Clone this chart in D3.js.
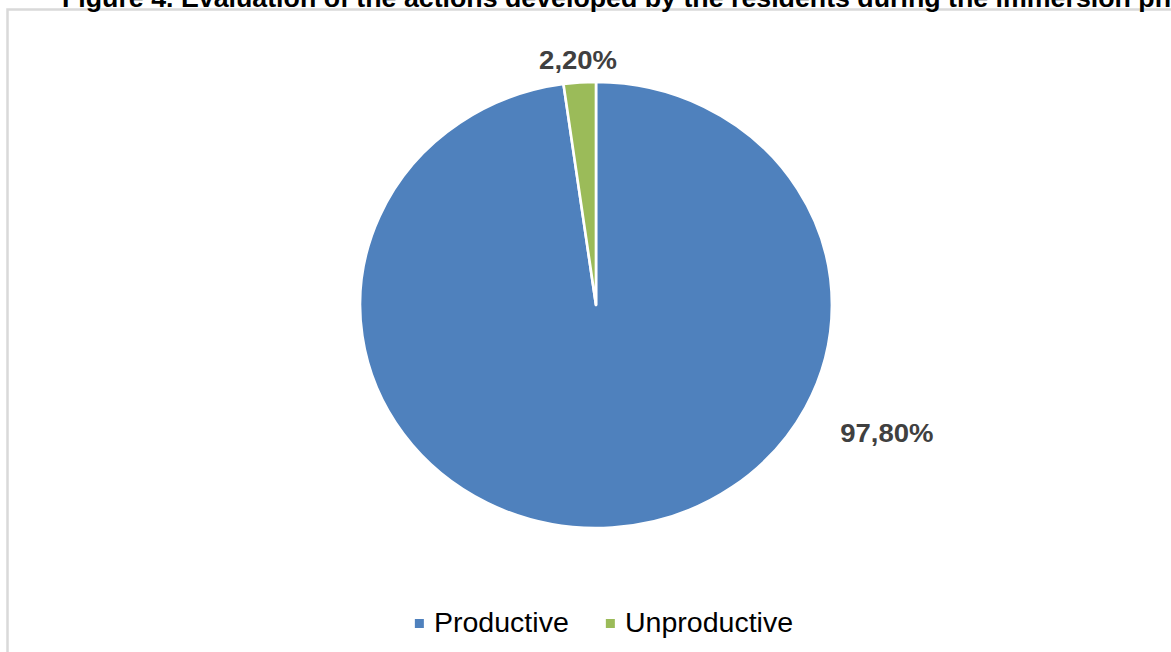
<!DOCTYPE html>
<html lang="en">
<head>
    <meta charset="UTF-8">
    <title>Figure 4</title>
    <script src="https://d3js.org/d3.v7.min.js"></script>
    <style>
        body {
            margin: 0;
            background: #fff;
            overflow: hidden;
        }
        text {
            font-family: "Liberation Sans", Arial, sans-serif;
        }
    </style>
</head>
<body>
<svg width="1171" height="652"></svg>
<script>
    const titleText = "Figure 4. Evaluation of the actions developed by the residents during the immersion phase";
    const categories = ["Productive", "Unproductive"];
    const values = [97.8, 2.2];
    const valueLabels = ["97,80%", "2,20%"];
    const colors = ["#4f81bd", "#9bbb59"];

    const W = 1171, H = 652;
    const sx = 1.058;            // the picture is a bit wider than tall
    const cx = 596, cy = 305, r = 223;

    const svg = d3.select("svg");

    // chart frame
    svg.append("rect")
        .attr("x", 7.5).attr("y", 9.5)
        .attr("width", W + 20).attr("height", H + 20)
        .attr("fill", "none")
        .attr("stroke", "#d9d9d9")
        .attr("stroke-width", 2.5);

    // title, cut at the top (as in the source image)
    svg.append("text")
        .attr("transform", `translate(62,7) scale(${sx},1)`)
        .attr("font-size", 25.3)
        .attr("font-weight", "bold")
        .attr("fill", "#000")
        .text(titleText);

    const data = categories.map((c, i) => ({ name: c, value: values[i], label: valueLabels[i], color: colors[i] }));

    const pie = d3.pie().sort(null).value(d => d.value);
    const arcs = pie(data);
    const arc = d3.arc().innerRadius(0).outerRadius(r);

    const g = svg.append("g")
        .attr("transform", `translate(${cx},${cy}) scale(${sx},1)`);

    g.selectAll("path")
        .data(arcs)
        .enter().append("path")
        .attr("d", arc)
        .attr("fill", d => d.data.color)
        .attr("stroke", "#fff")
        .attr("stroke-width", 2.5)
        .attr("stroke-linejoin", "round");

    // data labels: Excel "best fit" spots, angle and distance per slice
    const labelAngle = [115 * Math.PI / 180, null];
    const labelDist = [1.36, 1.1];
    g.selectAll(".lbl")
        .data(arcs)
        .enter().append("text")
        .attr("class", "lbl")
        .each(function (d, i) {
            const a = labelAngle[i] !== null ? labelAngle[i] : (d.startAngle + d.endAngle) / 2;
            const rr = r * labelDist[i];
            d3.select(this)
                .attr("x", Math.sin(a) * rr)
                .attr("y", -Math.cos(a) * rr)
                .attr("dy", "0.35em");
        })
        .attr("text-anchor", "middle")
        .attr("font-size", 26)
        .attr("font-weight", "bold")
        .attr("fill", "#404040")
        .text(d => d.data.label);

    // legend
    const legend = svg.append("g")
        .attr("transform", `translate(0,632) scale(${sx},1)`);
    const items = legend.selectAll(".item")
        .data(data)
        .enter().append("g")
        .attr("class", "item");
    items.append("rect")
        .attr("width", 9 / sx).attr("height", 9)
        .attr("y", -13)
        .attr("fill", d => d.color);
    items.append("text")
        .attr("x", 18)
        .attr("font-size", 27)
        .attr("fill", "#000")
        .text(d => d.name);

    let pos = 0;
    const offsets = [];
    items.each(function () {
        offsets.push(pos);
        pos += this.getBBox().width + 35;
    });
    const total = pos - 35;
    const start = 604 / sx - total / 2;
    items.attr("transform", (d, i) => `translate(${start + offsets[i]},0)`);
</script>
</body>
</html>
